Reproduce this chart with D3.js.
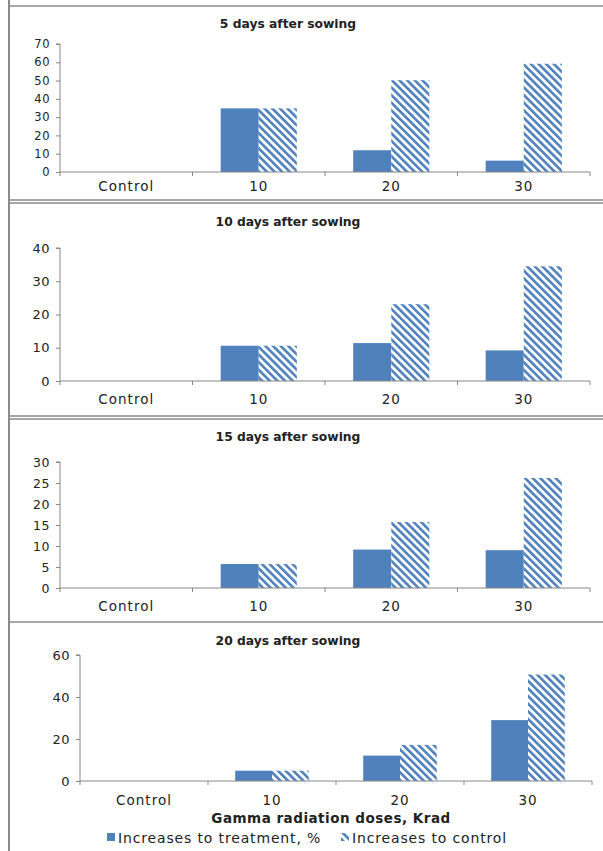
<!DOCTYPE html>
<html>
<head>
<meta charset="utf-8">
<script src="https://cdn.jsdelivr.net/npm/d3@7"></script>
<style>
  html, body { margin: 0; padding: 0; background: #fff; }
  svg { display: block; }
  text { font-family: "DejaVu Sans", Verdana, sans-serif; fill: #222; }
</style>
</head>
<body>
<svg id="chart" width="603" height="851"></svg>
<script>
// ---- Data ----
const categories = ["Control", "10", "20", "30"];
const seriesNames = ["Increases to treatment, %", "Increases to control"];
const panelTitles = ["5 days after sowing", "10 days after sowing", "15 days after sowing", "20 days after sowing"];
const treatment5 = [0, 34.8, 11.9, 6.2];
const control5 = [0, 34.8, 50.2, 59.2];
const treatment10 = [0, 10.6, 11.4, 9.2];
const control10 = [0, 10.6, 23.1, 34.5];
const treatment15 = [0, 5.7, 9.15, 9.0];
const control15 = [0, 5.7, 15.7, 26.2];
const treatment20 = [0, 4.9, 12.1, 29.0];
const control20 = [0, 4.9, 17.2, 50.7];
const yMax = [70, 40, 30, 60];
const yStep = [10, 10, 5, 20];
const xAxisTitle = "Gamma radiation doses, Krad";

const treatments = [treatment5, treatment10, treatment15, treatment20];
const controls = [control5, control10, control15, control20];

// ---- Layout ----
const layout = [
  { x0: 60, x1: 590, yTop: 44, yBot: 172, titleY: 28, labelY: 191, tickFont: 11.5 },
  { x0: 60, x1: 590, yTop: 248, yBot: 381, titleY: 226, labelY: 404, tickFont: 13 },
  { x0: 60, x1: 590, yTop: 462, yBot: 588, titleY: 441, labelY: 611, tickFont: 12.5 },
  { x0: 80, x1: 592, yTop: 655, yBot: 781, titleY: 645, labelY: 805, tickFont: 13 }
];

const BLUE = "#4F81BD";
const AXIS = "#868686";
const FRAME = "#8a8a8a";

const svg = d3.select("#chart");

// hatch pattern
const defs = svg.append("defs");
const pat = defs.append("pattern")
  .attr("id", "hatch")
  .attr("patternUnits", "userSpaceOnUse")
  .attr("width", 5.4).attr("height", 5.4)
  .attr("patternTransform", "rotate(-45)");
pat.append("rect").attr("width", 5.4).attr("height", 5.4).attr("fill", "#fff");
pat.append("rect").attr("x", 0).attr("y", 0).attr("width", 2.6).attr("height", 5.4).attr("fill", BLUE);

// frame lines
const frameLines = [
  [9, 6, 603, 6], [9, 200, 603, 200], [9, 203, 603, 203],
  [9, 416, 603, 416], [9, 419, 603, 419], [9, 622, 603, 622]
];
svg.selectAll("line.frame").data(frameLines).enter().append("line")
  .attr("class", "frame")
  .attr("x1", d => d[0]).attr("y1", d => d[1]).attr("x2", d => d[2]).attr("y2", d => d[3])
  .attr("stroke", FRAME).attr("stroke-width", 1.5);
svg.append("line").attr("x1", 9).attr("y1", 0).attr("x2", 9).attr("y2", 851)
  .attr("stroke", FRAME).attr("stroke-width", 2);

layout.forEach((L, i) => {
  const g = svg.append("g");
  const x = d3.scaleBand().domain(categories).range([L.x0, L.x1]).padding(0);
  const xs = d3.scaleBand().domain(seriesNames).range([0, x.bandwidth()]).paddingInner(0).paddingOuter(0.74);
  const y = d3.scaleLinear().domain([0, yMax[i]]).range([L.yBot, L.yTop]);

  // title
  g.append("text").attr("x", 288).attr("y", L.titleY)
    .attr("text-anchor", "middle").attr("font-weight", "bold").attr("font-size", 12.3)
    .text(panelTitles[i]);

  // bars
  const rows = categories.map((c, k) => ({ c, t: treatments[i][k], k: controls[i][k] }));
  const grp = g.selectAll("g.cat").data(rows).enter().append("g")
    .attr("transform", d => `translate(${x(d.c)},0)`);
  grp.append("rect")
    .attr("x", xs(seriesNames[0])).attr("width", xs.bandwidth())
    .attr("y", d => y(d.t)).attr("height", d => y(0) - y(d.t))
    .attr("fill", BLUE);
  grp.append("rect")
    .attr("x", xs(seriesNames[1])).attr("width", xs.bandwidth())
    .attr("y", d => y(d.k)).attr("height", d => y(0) - y(d.k))
    .attr("fill", "url(#hatch)");

  // y axis
  const yAxis = d3.axisLeft(y).tickValues(d3.range(0, yMax[i] + 0.001, yStep[i]))
    .tickSize(4).tickPadding(6).tickFormat(d3.format("d"));
  const ya = g.append("g").attr("transform", `translate(${L.x0},0)`).call(yAxis);
  ya.select(".domain").attr("stroke", AXIS).attr("d", `M-4,${L.yTop}H0V${L.yBot}`);
  ya.selectAll(".tick line").attr("stroke", AXIS);
  ya.selectAll(".tick text").attr("font-size", L.tickFont).attr("fill", "#222")
    .attr("font-family", "DejaVu Sans").attr("letter-spacing", 0.5);

  // x axis line + boundary ticks
  const boundaries = categories.map(c => x(c)).concat([L.x1]);
  g.append("line").attr("x1", L.x0).attr("x2", L.x1).attr("y1", L.yBot).attr("y2", L.yBot)
    .attr("stroke", AXIS).attr("stroke-width", 1);
  g.selectAll("line.bt").data(boundaries).enter().append("line")
    .attr("x1", d => d).attr("x2", d => d).attr("y1", L.yBot).attr("y2", L.yBot + 4)
    .attr("stroke", AXIS);
  g.selectAll("text.cat").data(categories).enter().append("text")
    .attr("x", d => x(d) + x.bandwidth() / 2).attr("y", L.labelY)
    .attr("text-anchor", "middle").attr("font-size", 13.5).attr("letter-spacing", 1)
    .text(d => d);

  if (i === 3) {
    g.append("text").attr("x", 331).attr("y", 823).attr("text-anchor", "middle")
      .attr("font-weight", "bold").attr("font-size", 13.5).attr("letter-spacing", 0.5)
      .text(xAxisTitle);
    const legend = [
      { x: 107, fill: BLUE, name: seriesNames[0] },
      { x: 341, fill: "url(#hatch)", name: seriesNames[1] }
    ];
    const lg = g.selectAll("g.leg").data(legend).enter().append("g")
      .attr("transform", d => `translate(${d.x},833)`);
    lg.append("rect").attr("width", 8).attr("height", 8).attr("fill", d => d.fill);
    lg.append("text").attr("x", 11).attr("y", 10).attr("font-size", 14).attr("letter-spacing", 0.85)
      .text(d => d.name);
  }
});
</script>
</body>
</html>
